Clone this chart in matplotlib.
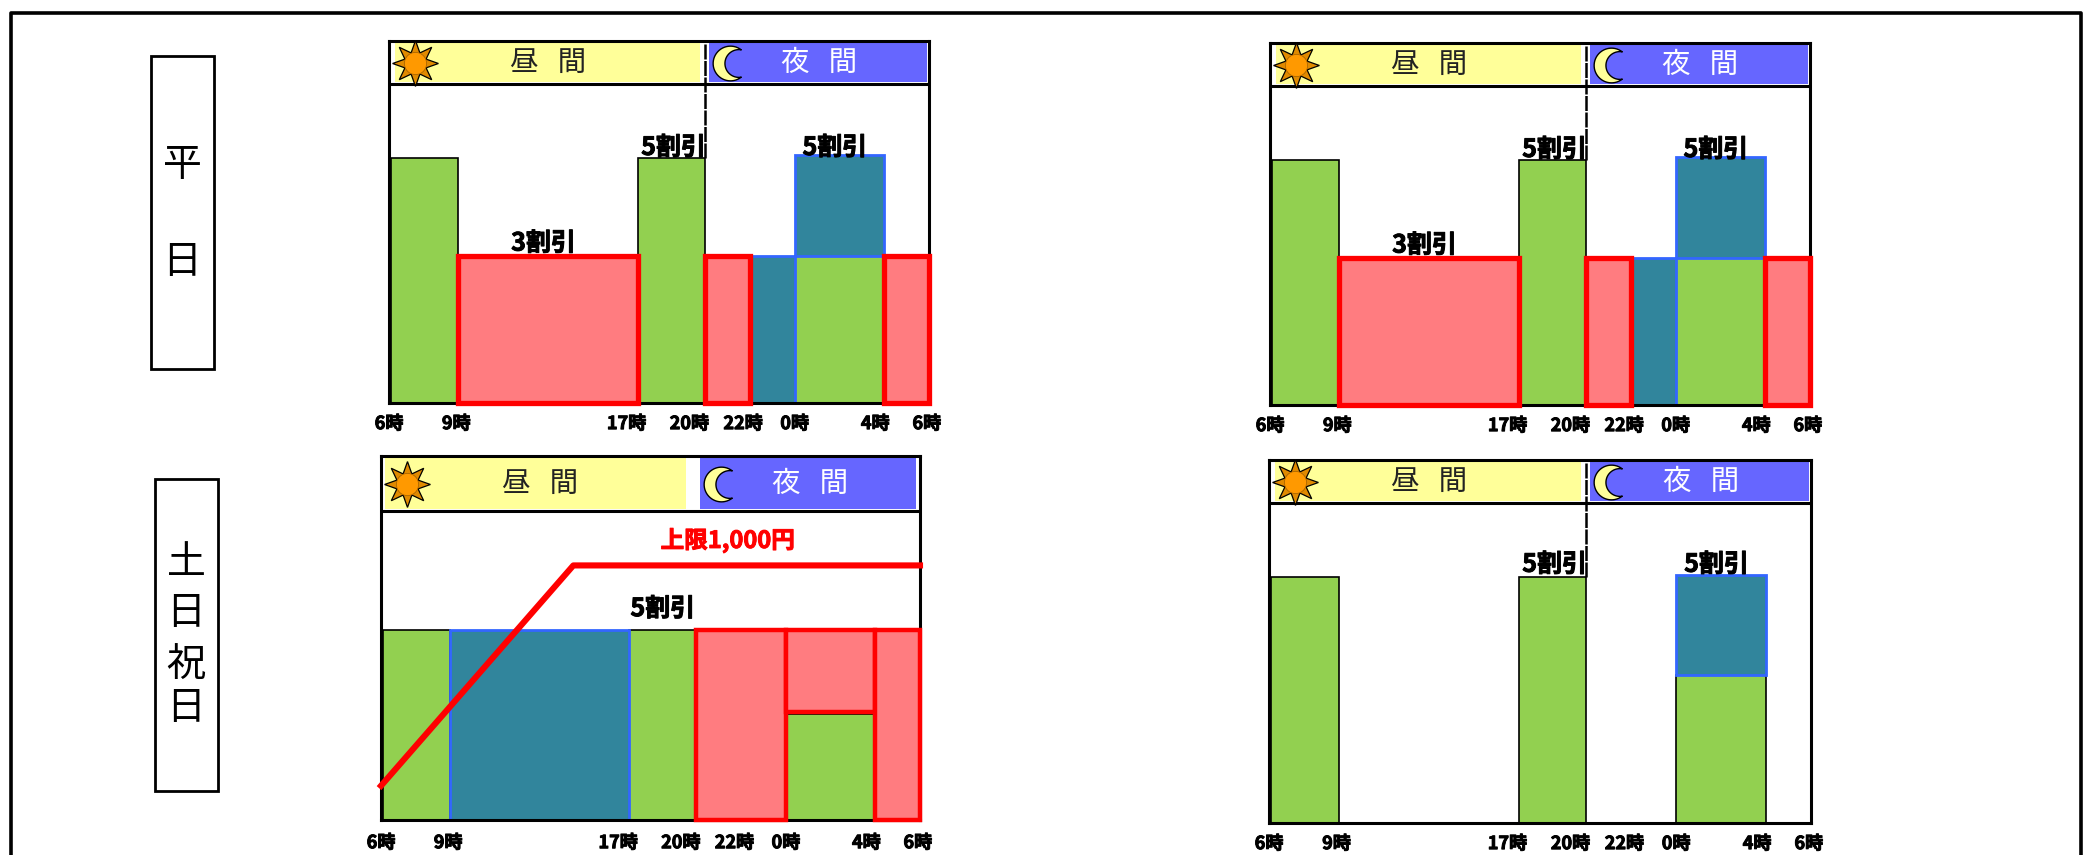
import numpy as np
import matplotlib
matplotlib.use('Agg')
import matplotlib.pyplot as plt
import matplotlib.patheffects as pe
from matplotlib.path import Path
from matplotlib.patches import Rectangle

plt.rcParams['font.family'] = ['Noto Sans CJK JP', 'DejaVu Sans']

# 時間軸: 6時からの経過時間
tick_labels = ['6時', '9時', '17時', '20時', '22時', '0時', '4時', '6時']
tick_hours = [-0.1, 2.9, 10.5, 13.3, 15.7, 18.0, 21.6, 23.9]

# 料金の高さ (通常料金 = 100)
full = 100
low_top = 60
low_weekend = 56

# 平日
weekday_green_left = [0, 11, 18]
weekday_green_width = [3, 3, 4]
weekday_green_height = [full, full, low_top]
weekday_red_left = [3, 14, 22]
weekday_red_width = [8, 2, 2]
weekday_red_bottom = [0, 0, 0]
weekday_red_height = [low_top, low_top, low_top]
weekday_blue_left = [16, 18]
weekday_blue_width = [2, 4]
weekday_blue_bottom = [0, low_top]
weekday_blue_height = [low_top, 41]
weekday_notes = ['3割引', '5割引', '5割引']
weekday_note_x = [6.8, 12.6, 19.8]
weekday_note_y = [65, 104, 104]

# 土日祝日 (左)
holiday_green_left = [0, 11, 18]
holiday_green_width = [3, 3, 4]
holiday_green_height = [full, full, low_weekend]
holiday_red_left = [14, 18, 22]
holiday_red_width = [4, 4, 2]
holiday_red_bottom = [0, low_weekend + 1, 0]
holiday_red_height = [full, full - low_weekend - 1, full]
holiday_blue_left = [3]
holiday_blue_width = [8]
holiday_blue_bottom = [0]
holiday_blue_height = [full]
holiday_notes = ['5割引']
holiday_note_x = [12.5]
holiday_note_y = [111]
cap_hours = [-0.1, 8.5, 24]
cap_fare = [18, 134, 134]
cap_label = '上限1,000円'

# 土日祝日 (右)
right_green_left = [0, 11, 18]
right_green_width = [3, 3, 4]
right_green_height = [full, full, low_top]
right_blue_left = [18]
right_blue_width = [4]
right_blue_bottom = [low_top]
right_blue_height = [41]
right_notes = ['5割引', '5割引']
right_note_x = [12.6, 19.8]
right_note_y = [105, 105]

W, H = 2091, 855
GREEN = '#92D050'
RED_FILL = '#FF7C80'
RED = '#FF0000'
TEAL = '#31859C'
BLUE = '#3366FF'
DAY = '#FFFF99'
NIGHT = '#6666FF'

# 太字をさらに太く見せる
heavy = [pe.withStroke(linewidth=0.7, foreground='black')]
heavy_red = [pe.withStroke(linewidth=0.7, foreground=RED)]

# 三日月のマーカー
t1 = np.radians(np.linspace(52, 308, 40))
t2 = np.radians(np.linspace(280, 80, 40))
moon_xy = np.vstack([np.c_[np.cos(t1), np.sin(t1)],
                     np.c_[0.48 + 0.8 * np.cos(t2), 0.8 * np.sin(t2)]])
moon = Path(np.vstack([moon_xy, moon_xy[0]]), closed=True)

fig = plt.figure(figsize=(W / 100, H / 100), dpi=100, facecolor='white')

# 外枠と左側の見出し
bg = fig.add_axes([0, 0, 1, 1])
bg.set_xlim(0, W)
bg.set_ylim(H, 0)
bg.axis('off')
bg.plot([11, 11, 2081, 2081], [856, 13, 13, 856], color='black', lw=2.6)
bg.add_patch(Rectangle((151, 56), 63, 313, fc='white', ec='black', lw=2))
bg.add_patch(Rectangle((155, 479), 63, 312, fc='white', ec='black', lw=2))
for ch, x, y in [('平', 182, 165), ('日', 182, 262), ('土', 186, 563),
                 ('日', 186, 613), ('祝', 186, 666), ('日', 186, 708)]:
    bg.text(x, y, ch, fontsize=28, ha='center', va='center', color='black')


def panel(box, head_bottom, head_top, greens, reds, blues, notes,
          red_lw=3.8, mid_line=True, day_span=(0.25, 13.8), night_span=(14.2, 23.9),
          tick_pad=7):
    x0, x1, ytop, ybase = box
    ax = fig.add_axes([x0 / W, 1 - ybase / H, (x1 - x0) / W, (ybase - ytop) / H])
    ax.set_xlim(0, 24)
    ax.set_ylim(0, head_top)
    ax.patch.set_alpha(0)

    ax.bar(greens[0], greens[2], width=greens[1], align='edge',
           color=GREEN, edgecolor='black', lw=1.2, zorder=2)
    if blues:
        ax.bar(blues[0], blues[3], width=blues[1], bottom=blues[2], align='edge',
               color=TEAL, edgecolor=BLUE, lw=2, zorder=3)
    if reds:
        ax.bar(reds[0], reds[3], width=reds[1], bottom=reds[2], align='edge',
               color=RED_FILL, edgecolor=RED, lw=red_lw, zorder=6, clip_on=False)

    # 昼間・夜間の帯
    ax.axhspan(head_bottom + 1, head_top - 1, xmin=day_span[0] / 24, xmax=day_span[1] / 24,
               color=DAY, lw=0, zorder=1)
    ax.axhspan(head_bottom + 1, head_top - 1, xmin=night_span[0] / 24, xmax=night_span[1] / 24,
               color=NIGHT, lw=0, zorder=1)
    ax.axhline(head_bottom, color='black', lw=2.2, zorder=5)
    if mid_line:
        ax.plot([14, 14], [full, head_top], color='black', lw=1.8, ls=(0, (6, 0.6)), zorder=5)
    head_mid = (head_bottom + head_top) / 2
    ax.plot([1.05], [head_mid], marker=(8, 1, 0), ms=33, mfc='#E08A00', mec='black', mew=0.9,
            clip_on=False, zorder=7)
    ax.plot([1.05], [head_mid], marker='o', ms=16, mfc='#FF9900', mec='#AA6600', mew=0.6,
            clip_on=False, zorder=8)
    ax.plot([15.1], [head_mid], marker=moon, ms=25, mfc=DAY, mec='black', mew=1,
            clip_on=False, zorder=7)
    ax.text(7.0, head_mid, '昼   間', fontsize=20.5, ha='center', va='center', color='#222222', zorder=7)
    ax.text(19.1, head_mid, '夜   間', fontsize=20.5, ha='center', va='center', color='white', zorder=7)

    for note, nx, ny in zip(*notes):
        ax.text(nx, ny, note, fontsize=18, fontweight='bold', ha='center', va='center',
                color='black', zorder=7, path_effects=heavy)

    for side in ax.spines.values():
        side.set_linewidth(2.2)
        side.set_color('black')
        side.set_zorder(5)
    ax.set_yticks([])
    ax.set_xticks(tick_hours)
    ax.set_xticklabels(tick_labels, fontsize=13, fontweight='bold', path_effects=heavy)
    ax.tick_params(axis='x', length=0, pad=tick_pad)
    return ax


weekday_g = (weekday_green_left, weekday_green_width, weekday_green_height)
weekday_r = (weekday_red_left, weekday_red_width, weekday_red_bottom, weekday_red_height)
weekday_b = (weekday_blue_left, weekday_blue_width, weekday_blue_bottom, weekday_blue_height)
weekday_n = (weekday_notes, weekday_note_x, weekday_note_y)

panel((389, 929, 41, 403), 130, 147.6, weekday_g, weekday_r, weekday_b, weekday_n, tick_pad=8)
panel((1270, 1810, 43, 405), 130, 147.6, weekday_g, weekday_r, weekday_b, weekday_n, tick_pad=8)

ax3 = panel((381, 920, 456, 820), 162.6, 191.6,
            (holiday_green_left, holiday_green_width, holiday_green_height),
            (holiday_red_left, holiday_red_width, holiday_red_bottom, holiday_red_height),
            (holiday_blue_left, holiday_blue_width, holiday_blue_bottom, holiday_blue_height),
            (holiday_notes, holiday_note_x, holiday_note_y),
            red_lw=3.2, mid_line=False, day_span=(0.2, 13.6), night_span=(14.2, 23.8),
            tick_pad=9.5)
ax3.plot(cap_hours, cap_fare, color=RED, lw=4.4, zorder=9, clip_on=False)
ax3.text(15.4, 147, cap_label, color=RED, fontsize=17, fontweight='bold',
         ha='center', va='center', zorder=9, path_effects=heavy_red)

panel((1269, 1811, 460, 823), 130, 147.6,
      (right_green_left, right_green_width, right_green_height),
      None,
      (right_blue_left, right_blue_width, right_blue_bottom, right_blue_height),
      (right_notes, right_note_x, right_note_y), tick_pad=8)

fig.savefig('out.png', dpi=100, facecolor='white')
